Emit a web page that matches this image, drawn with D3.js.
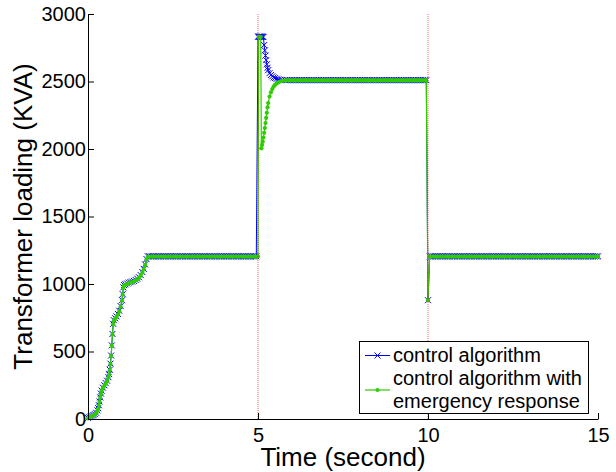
<!DOCTYPE html>
<html>
<head>
<meta charset="utf-8">
<script src="https://cdn.jsdelivr.net/npm/d3@7"></script>
<style>
  html, body { margin: 0; padding: 0; background: #fff; }
  svg { display: block; }
  text { font-family: "Liberation Sans", Arial, Helvetica, sans-serif; fill: #000; }
</style>
</head>
<body>
<svg id="chart" width="616" height="472"></svg>
<script>
// ---------------- DATA ----------------
const timeSec = [
  // ramp 0–1.8 s (52)
  0,0.04,0.08,0.12,0.16,0.2,0.24,0.28,0.3,0.32,0.34,0.36,0.38,0.4,
  0.44,0.48,0.52,0.56,0.6,0.62,0.64,0.66,0.68,0.7,0.72,0.74,0.76,
  0.8,0.84,0.88,0.92,0.96,1,1.02,1.04,1.06,1.1,1.15,1.2,
  1.25,1.3,1.35,1.4,1.45,1.5,1.55,1.6,1.64,1.68,1.72,1.76,1.8,
  // plateau (63)
  1.85,1.9,1.95,2,2.05,2.1,2.15,2.2,2.25,2.3,
  2.35,2.4,2.45,2.5,2.55,2.6,2.65,2.7,2.75,2.8,
  2.85,2.9,2.95,3,3.05,3.1,3.15,3.2,3.25,3.3,
  3.35,3.4,3.45,3.5,3.55,3.6,3.65,3.7,3.75,3.8,
  3.85,3.9,3.95,4,4.05,4.1,4.15,4.2,4.25,4.3,
  4.35,4.4,4.45,4.5,4.55,4.6,4.65,4.7,4.75,4.8,
  4.85,4.9,4.95,
  // event at 5 s (26)
  5,5.02,5.04,5.06,5.08,5.1,5.12,5.14,5.16,5.18,5.2,5.22,5.24,
  5.26,5.28,5.3,5.34,5.38,5.42,5.46,5.5,5.55,5.6,5.65,5.7,5.8,
  // plateau (83)
  5.85,5.9,5.95,6,6.05,6.1,6.15,6.2,6.25,6.3,
  6.35,6.4,6.45,6.5,6.55,6.6,6.65,6.7,6.75,6.8,
  6.85,6.9,6.95,7,7.05,7.1,7.15,7.2,7.25,7.3,
  7.35,7.4,7.45,7.5,7.55,7.6,7.65,7.7,7.75,7.8,
  7.85,7.9,7.95,8,8.05,8.1,8.15,8.2,8.25,8.3,
  8.35,8.4,8.45,8.5,8.55,8.6,8.65,8.7,8.75,8.8,
  8.85,8.9,8.95,9,9.05,9.1,9.15,9.2,9.25,9.3,
  9.35,9.4,9.45,9.5,9.55,9.6,9.65,9.7,9.75,9.8,
  9.85,9.9,9.95,
  // event at 10 s (2)
  10,10.05,
  // plateau (99)
  10.1,10.15,10.2,10.25,10.3,10.35,10.4,10.45,10.5,10.55,
  10.6,10.65,10.7,10.75,10.8,10.85,10.9,10.95,11,11.05,
  11.1,11.15,11.2,11.25,11.3,11.35,11.4,11.45,11.5,11.55,
  11.6,11.65,11.7,11.75,11.8,11.85,11.9,11.95,12,12.05,
  12.1,12.15,12.2,12.25,12.3,12.35,12.4,12.45,12.5,12.55,
  12.6,12.65,12.7,12.75,12.8,12.85,12.9,12.95,13,13.05,
  13.1,13.15,13.2,13.25,13.3,13.35,13.4,13.45,13.5,13.55,
  13.6,13.65,13.7,13.75,13.8,13.85,13.9,13.95,14,14.05,
  14.1,14.15,14.2,14.25,14.3,14.35,14.4,14.45,14.5,14.55,
  14.6,14.65,14.7,14.75,14.8,14.85,14.9,14.95,15
];

const controlKVA = [
  8,14,20,25,30,36,46,64,80,102,130,160,188,210,
  232,250,266,284,310,332,365,410,470,545,630,705,732,
  746,760,778,802,836,880,925,975,992,998,1004,1010,
  1014,1018,1023,1030,1039,1050,1066,1088,1112,1145,1185,1205,1205,
  1205,1205,1205,1205,1205,1205,1205,1205,1205,1205,
  1205,1205,1205,1205,1205,1205,1205,1205,1205,1205,
  1205,1205,1205,1205,1205,1205,1205,1205,1205,1205,
  1205,1205,1205,1205,1205,1205,1205,1205,1205,1205,
  1205,1205,1205,1205,1205,1205,1205,1205,1205,1205,
  1205,1205,1205,1205,1205,1205,1205,1205,1205,1205,
  1205,1205,1205,
  2832,2832,2832,2832,2832,2832,2832,2831,2829,2770,2730,2692,2658,
  2627,2602,2584,2562,2548,2538,2530,2525,2520,2516,2513,2511,2510,
  2510,2510,2510,2510,2510,2510,2510,2510,2510,2510,
  2510,2510,2510,2510,2510,2510,2510,2510,2510,2510,
  2510,2510,2510,2510,2510,2510,2510,2510,2510,2510,
  2510,2510,2510,2510,2510,2510,2510,2510,2510,2510,
  2510,2510,2510,2510,2510,2510,2510,2510,2510,2510,
  2510,2510,2510,2510,2510,2510,2510,2510,2510,2510,
  2510,2510,2510,2510,2510,2510,2510,2510,2510,2510,
  2510,2510,2510,2510,2510,2510,2510,2510,2510,2510,
  2510,2510,2510,
  880,1205,
  1205,1205,1205,1205,1205,1205,1205,1205,1205,1205,
  1205,1205,1205,1205,1205,1205,1205,1205,1205,1205,
  1205,1205,1205,1205,1205,1205,1205,1205,1205,1205,
  1205,1205,1205,1205,1205,1205,1205,1205,1205,1205,
  1205,1205,1205,1205,1205,1205,1205,1205,1205,1205,
  1205,1205,1205,1205,1205,1205,1205,1205,1205,1205,
  1205,1205,1205,1205,1205,1205,1205,1205,1205,1205,
  1205,1205,1205,1205,1205,1205,1205,1205,1205,1205,
  1205,1205,1205,1205,1205,1205,1205,1205,1205,1205,
  1205,1205,1205,1205,1205,1205,1205,1205,1205
];

const emergencyKVA = [
  4,10,16,21,26,32,42,60,76,98,126,156,184,206,
  228,246,262,280,306,328,361,406,466,541,626,701,728,
  742,756,774,798,832,876,921,971,988,994,1000,1006,
  1010,1014,1019,1026,1035,1046,1062,1084,1108,1141,1181,1201,1203,
  1203,1203,1203,1203,1203,1203,1203,1203,1203,1203,
  1203,1203,1203,1203,1203,1203,1203,1203,1203,1203,
  1203,1203,1203,1203,1203,1203,1203,1203,1203,1203,
  1203,1203,1203,1203,1203,1203,1203,1203,1203,1203,
  1203,1203,1203,1203,1203,1203,1203,1203,1203,1203,
  1203,1203,1203,1203,1203,1203,1203,1203,1203,1203,
  1203,1203,1203,
  1203,2830,2830,2830,2830,2005,2030,2055,2085,2120,2155,2192,2230,
  2268,2308,2340,2388,2420,2444,2462,2475,2486,2494,2500,2504,2507,
  2508,2508,2508,2508,2508,2508,2508,2508,2508,2508,
  2508,2508,2508,2508,2508,2508,2508,2508,2508,2508,
  2508,2508,2508,2508,2508,2508,2508,2508,2508,2508,
  2508,2508,2508,2508,2508,2508,2508,2508,2508,2508,
  2508,2508,2508,2508,2508,2508,2508,2508,2508,2508,
  2508,2508,2508,2508,2508,2508,2508,2508,2508,2508,
  2508,2508,2508,2508,2508,2508,2508,2508,2508,2508,
  2508,2508,2508,2508,2508,2508,2508,2508,2508,2508,
  2508,2508,2508,
  880,1203,
  1203,1203,1203,1203,1203,1203,1203,1203,1203,1203,
  1203,1203,1203,1203,1203,1203,1203,1203,1203,1203,
  1203,1203,1203,1203,1203,1203,1203,1203,1203,1203,
  1203,1203,1203,1203,1203,1203,1203,1203,1203,1203,
  1203,1203,1203,1203,1203,1203,1203,1203,1203,1203,
  1203,1203,1203,1203,1203,1203,1203,1203,1203,1203,
  1203,1203,1203,1203,1203,1203,1203,1203,1203,1203,
  1203,1203,1203,1203,1203,1203,1203,1203,1203,1203,
  1203,1203,1203,1203,1203,1203,1203,1203,1203,1203,
  1203,1203,1203,1203,1203,1203,1203,1203,1203
];

const eventTimes = [5, 10];
const xTicks = [0, 5, 10, 15];
const yTicks = [0, 500, 1000, 1500, 2000, 2500, 3000];
const legendLabels = [["control algorithm"], ["control algorithm with", "emergency response"]];

if (timeSec.length !== controlKVA.length || timeSec.length !== emergencyKVA.length) {
  console.error("length mismatch", timeSec.length, controlKVA.length, emergencyKVA.length);
}

// ---------------- CHART ----------------
const svg = d3.select("#chart");
const x = d3.scaleLinear().domain([0, 15]).range([88, 598]);
const y = d3.scaleLinear().domain([0, 3000]).range([419, 14]);

const blue = "#0000ff";
const green = "#2ecc00";

const controlData = timeSec.map((t, i) => [t, controlKVA[i]]);
const emergData = timeSec.map((t, i) => [t, emergencyKVA[i]]);
const line = d3.line().x(d => x(d[0])).y(d => y(d[1]));

// blue series
svg.append("path").datum(controlData)
  .attr("d", line).attr("fill", "none").attr("stroke", blue).attr("stroke-width", 1);
const xMark = "M-3,-3L3,3M-3,3L3,-3";
svg.append("g").selectAll("path").data(controlData).join("path")
  .attr("transform", d => `translate(${x(d[0])},${y(d[1])})`)
  .attr("d", xMark).attr("stroke", blue).attr("stroke-width", 1).attr("fill", "none");

// green series
svg.append("path").datum(emergData)
  .attr("d", line).attr("fill", "none").attr("stroke", green).attr("stroke-width", 1.2);
svg.append("g").selectAll("circle").data(emergData).join("circle")
  .attr("cx", d => x(d[0])).attr("cy", d => y(d[1])).attr("r", 2.1)
  .attr("fill", green);

// event lines
svg.append("g").selectAll("line").data(eventTimes).join("line")
  .attr("x1", d => x(d)).attr("x2", d => x(d))
  .attr("y1", y(0)).attr("y2", y(3000))
  .attr("stroke", "#ff0000").attr("stroke-width", 1)
  .attr("stroke-dasharray", "1,1").attr("opacity", 0.6);

// axes
const xAxis = d3.axisBottom(x).tickValues(xTicks).tickFormat(d3.format("d"))
  .tickSizeInner(-6).tickSizeOuter(0).tickPadding(9);
const yAxis = d3.axisLeft(y).tickValues(yTicks).tickFormat(d3.format("d"))
  .tickSizeInner(-6).tickSizeOuter(0).tickPadding(2);

const gx = svg.append("g").attr("transform", `translate(0,${y(0)})`).call(xAxis);
const gy = svg.append("g").attr("transform", `translate(${x(0)},0)`).call(yAxis);
[gx, gy].forEach(g => {
  g.selectAll("text").attr("font-size", 20).attr("font-family", "Liberation Sans, Arial, sans-serif").attr("fill", "#000");
  g.selectAll("line").attr("stroke", "#000");
  g.select(".domain").attr("stroke", "#000");
});

// axis titles
svg.append("text").attr("x", (x(0) + x(15)) / 2).attr("y", 466)
  .attr("text-anchor", "middle").attr("font-size", 26).text("Time (second)");
svg.append("text").attr("transform", `translate(32,${(y(0) + y(3000)) / 2}) rotate(-90)`)
  .attr("text-anchor", "middle").attr("font-size", 26).text("Transformer loading (KVA)");

// legend
const lg = svg.append("g");
lg.append("rect").attr("x", 359.5).attr("y", 341.5).attr("width", 229).attr("height", 72)
  .attr("fill", "#fff").attr("stroke", "#000").attr("stroke-width", 1);
// entry 1
lg.append("line").attr("x1", 365).attr("x2", 390).attr("y1", 355.5).attr("y2", 355.5)
  .attr("stroke", blue).attr("stroke-width", 1);
lg.append("path").attr("transform", "translate(377.5,355.5)").attr("d", xMark)
  .attr("stroke", blue).attr("fill", "none");
lg.append("text").attr("x", 393).attr("y", 362).attr("font-size", 20).text(legendLabels[0][0]);
// entry 2
lg.append("line").attr("x1", 365).attr("x2", 390).attr("y1", 390).attr("y2", 390)
  .attr("stroke", green).attr("stroke-width", 1.2);
lg.append("circle").attr("cx", 377.5).attr("cy", 390).attr("r", 2).attr("fill", green);
lg.append("text").attr("x", 393).attr("y", 385).attr("font-size", 20).text(legendLabels[1][0]);
lg.append("text").attr("x", 393).attr("y", 408).attr("font-size", 20).text(legendLabels[1][1]);
</script>
</body>
</html>
